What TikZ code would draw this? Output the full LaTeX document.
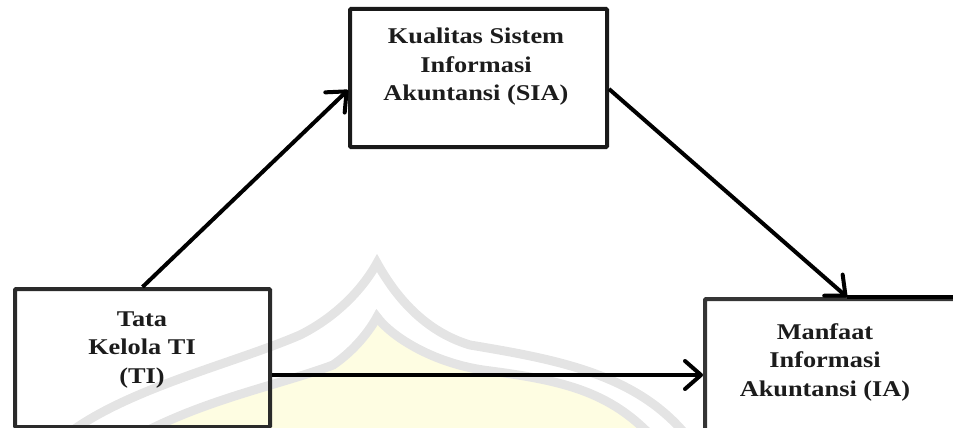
\documentclass[tikz,border=0pt]{standalone}
\usepackage{fontspec}
\setmainfont{Liberation Serif}[FakeStretch=1.17]
\usetikzlibrary{arrows.meta,calc}
\definecolor{boxc}{HTML}{2A2A2A}
\definecolor{txtc}{HTML}{1C1C1C}
\definecolor{wmgray}{HTML}{E4E4E4}
\definecolor{wmyellow}{HTML}{FEFDE2}
\begin{document}
\begin{tikzpicture}[x=1pt,y=1pt,
  box/.style={draw=boxc, line width=4pt, inner sep=0pt, anchor=north west, rounded corners=1pt},
  lbl/.style={align=center, font=\fontsize{22.5}{28.5}\selectfont\bfseries, text=txtc, inner sep=0pt},
  arr/.style={line width=4pt, draw=black, -{Straight Barb[length=16pt,width=28pt,round]}}]
\useasboundingbox (0,0) rectangle (953,-428);
\clip (0,0) rectangle (953,-428);
% faint watermark
\fill[wmyellow] (140,-440) .. controls (200,-400) and (280,-385) .. (333,-365)
  .. controls (355,-350) and (370,-330) .. (377,-317)
  .. controls (390,-335) and (430,-362) .. (483,-370)
  .. controls (560,-380) and (610,-390) .. (650,-440) -- cycle;
\draw[wmgray, line width=9pt] (60,-440) .. controls (120,-390) and (230,-365) .. (300,-335)
  .. controls (340,-315) and (365,-285) .. (377,-263)
  .. controls (392,-290) and (420,-330) .. (470,-345)
  .. controls (560,-360) and (640,-375) .. (690,-440);
\draw[wmgray, line width=9pt] (130,-440) .. controls (200,-400) and (280,-385) .. (333,-365)
  .. controls (355,-350) and (370,-330) .. (377,-317)
  .. controls (390,-335) and (430,-362) .. (483,-370)
  .. controls (560,-380) and (610,-390) .. (655,-440);
% boxes
\node[box, minimum width=255pt, minimum height=138pt] (ti) at (13,-287) {};
\node[box, draw=black!90, minimum width=257pt, minimum height=138pt] (sia) at (348,-7) {};
\node[box, draw=boxc!95, minimum width=300pt, minimum height=200pt] (ia) at (703,-297) {};
\draw[black, line width=4pt] ([xshift=-8pt]ia.north) -- (ia.north east);
% labels
\node[lbl] (siaText) at (476,-67) {Kualitas Sistem\\Informasi\\Akuntansi (SIA)};
\node[lbl] (tiText) at (142,-350) {Tata\\Kelola TI\\(TI)};
\node[lbl] (iaText) at (825,-362) {Manfaat\\Informasi\\Akuntansi (IA)};
% connectors
\coordinate (t3) at ([yshift=-17pt]ti.east);
\draw[arr] (ti.north) -- ([yshift=-12pt]sia.west);
\draw[arr] ([yshift=-11pt]sia.east) -- ([xshift=-8pt]ia.north);
\draw[arr] (t3) -- (t3 -| ia.west);
\end{tikzpicture}
\end{document}
